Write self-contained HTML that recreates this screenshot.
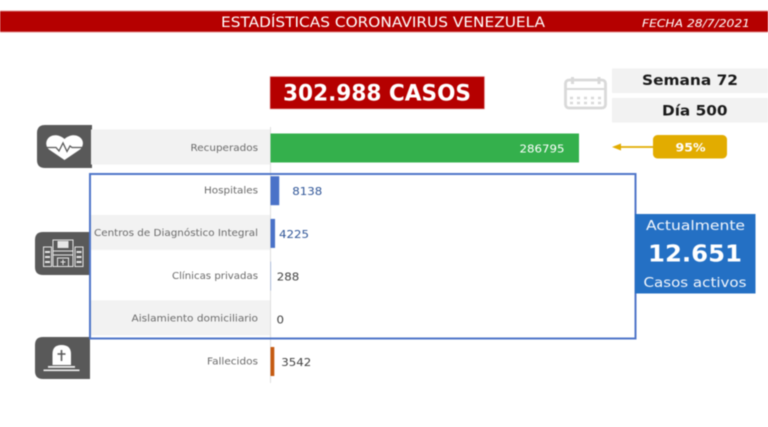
<!DOCTYPE html>
<html lang="es">
<head>
<meta charset="utf-8">
<title>Estadísticas Coronavirus Venezuela</title>
<style>
html,body{margin:0;padding:0;background:#fff;width:768px;height:427px;overflow:hidden}
svg{display:block;filter:blur(0.45px)}
text{font-family:"DejaVu Sans","Liberation Sans",sans-serif}
</style>
</head>
<body>
<svg id="chart" xmlns="http://www.w3.org/2000/svg" width="768" height="427" viewBox="0 0 768 427">
  <rect x="0" y="0" width="768" height="427" fill="#fff"/>

  <g>
    <rect x="-2" y="11" width="772" height="21" fill="#b50000" stroke="#e08a8a" stroke-width="1"/>
    <text x="221" y="27" font-size="14.5" fill="#fff" textLength="324" lengthAdjust="spacingAndGlyphs">ESTADÍSTICAS CORONAVIRUS VENEZUELA</text>
    <text x="642" y="27" font-size="10.5" font-style="italic" fill="#fff" textLength="108" lengthAdjust="spacingAndGlyphs">FECHA 28/7/2021</text>
  </g>

  <g>
    <rect x="270" y="76.5" width="214.5" height="32.5" fill="#b50000" stroke="#e9b0b0" stroke-width="0.6"/>
    <text x="283" y="100.5" font-size="22.5" font-weight="bold" fill="#fff" textLength="188" lengthAdjust="spacingAndGlyphs">302.988 CASOS</text>
  </g>

  <g fill="none" stroke="#d9d9d9">
    <rect x="565.5" y="80" width="40" height="28" rx="3.5" stroke-width="2.8"/>
    <line x1="565" y1="89" x2="606" y2="89" stroke-width="2"/>
    <line x1="572.5" y1="77" x2="572.5" y2="84" stroke-width="3"/>
    <line x1="599" y1="77" x2="599" y2="84" stroke-width="3"/>
    <line x1="570" y1="98" x2="602" y2="98" stroke-width="2.6" stroke-dasharray="3 4"/>
    <line x1="570" y1="103" x2="602" y2="103" stroke-width="2.6" stroke-dasharray="3 4"/>
  </g>

  <g>
    <rect x="612" y="68.5" width="156" height="24.5" fill="#f2f2f2"/>
    <text x="642" y="85" font-size="14.5" font-weight="bold" fill="#1a1a1a" textLength="96" lengthAdjust="spacingAndGlyphs">Semana 72</text>
  </g>
  <g>
    <rect x="612" y="98" width="156" height="24.5" fill="#f2f2f2"/>
    <text x="662" y="115.5" font-size="14.5" font-weight="bold" fill="#1a1a1a" textLength="65.5" lengthAdjust="spacingAndGlyphs">Día 500</text>
  </g>

  <g>
    <path d="M92 125V168H45Q37 168 37 160V133Q37 125 45 125Z" fill="#595959"/>
    <path d="M64.5 160L49 149.5C45 146 45.5 140 49.5 137C54 134 60 135 64.5 139C69 135 75 134 79.5 137C84 140 84 146 80 149.5Z" fill="#fff"/>
    <path d="M44 147.5H56L59 151L63 143L67 151.5L70 146L72 147.5H86" fill="none" stroke="#595959" stroke-width="1.3"/>
  </g>

  <g>
    <path d="M90 232V275H43Q35 275 35 267V240Q35 232 43 232Z" fill="#595959"/>
    <g fill="none" stroke="#e6e6e6" stroke-width="1">
      <rect x="43.5" y="247" width="8" height="19.5"/>
      <rect x="75" y="247" width="8" height="19.5"/>
      <rect x="53" y="240" width="20" height="26.5"/>
      <rect x="57.5" y="241" width="11" height="7" fill="#e6e6e6" stroke="none"/>
      <line x1="53" y1="251" x2="73" y2="251"/>
      <line x1="53" y1="255" x2="73" y2="255"/>
      <rect x="57.5" y="258" width="11" height="8.5"/>
      <line x1="45" y1="252" x2="50" y2="252" stroke-width="2"/>
      <line x1="45" y1="257" x2="50" y2="257" stroke-width="2"/>
      <line x1="45" y1="262" x2="50" y2="262" stroke-width="2"/>
      <line x1="76.5" y1="252" x2="81.5" y2="252" stroke-width="2"/>
      <line x1="76.5" y1="257" x2="81.5" y2="257" stroke-width="2"/>
      <line x1="76.5" y1="262" x2="81.5" y2="262" stroke-width="2"/>
      <path d="M63 259.5V265M60.5 262H65.5"/>
    </g>
  </g>

  <g>
    <path d="M90 337V379H43Q35 379 35 371V345Q35 337 43 337Z" fill="#595959"/>
    <path d="M52.5 365V354Q52.5 345 61.5 345Q71 345 71 354V365Z" fill="#fff"/>
    <path d="M61.5 350V361M57.5 354H65.5" fill="none" stroke="#595959" stroke-width="1.6"/>
    <rect x="48" y="366" width="27" height="1.8" fill="#eee"/>
    <rect x="43.5" y="369.5" width="36" height="1.6" fill="#eee"/>
  </g>

  <g id="bands"></g>
  <line x1="270.5" y1="127" x2="270.5" y2="383" stroke="#dedede" stroke-width="1"/>
  <g id="bars"></g>
  <g id="category-labels"></g>
  <g id="value-labels"></g>

  <rect x="90" y="174" width="545.5" height="164.5" fill="none" stroke="#4f76c8" stroke-width="2"/>

  <g>
    <rect x="635" y="214" width="120.5" height="79.5" fill="#2470c4"/>
    <text x="646" y="230" font-size="13" fill="#f2f6fc" textLength="99" lengthAdjust="spacingAndGlyphs">Actualmente</text>
    <text x="648" y="261.5" font-size="23" font-weight="bold" fill="#fff" textLength="94" lengthAdjust="spacingAndGlyphs">12.651</text>
    <text x="643.5" y="287" font-size="13" fill="#f2f6fc" textLength="103" lengthAdjust="spacingAndGlyphs">Casos activos</text>
  </g>

  <g>
    <line x1="654" y1="147" x2="618" y2="147" stroke="#e2ac00" stroke-width="1.8"/>
    <path d="M612 147L621 143.5V150.5Z" fill="#e2ac00"/>
    <rect x="653" y="135" width="74" height="23.5" rx="4.5" fill="#e2ac00"/>
    <text x="675.5" y="151.5" font-size="11.5" font-weight="bold" fill="#fff" textLength="30" lengthAdjust="spacingAndGlyphs">95%</text>
  </g>
</svg>

<script>
const categories = ["Recuperados", "Hospitales", "Centros de Diagnóstico Integral", "Clínicas privadas", "Aislamiento domiciliario", "Fallecidos"];
const caseCounts = [286795, 8138, 4225, 288, 0, 3542];
const barSeriesGroups = ["recovered", "active", "active", "active", "active", "deceased"];

function xScale(value) { return 270.5 + value * (308.5 / 286795); }
function rowCenter(index) { return 148 + index * 42.7; }

function render() {
  const ns = "http://www.w3.org/2000/svg";
  const bandLayer = document.getElementById("bands");
  const barLayer = document.getElementById("bars");
  const categoryLayer = document.getElementById("category-labels");
  const valueLayer = document.getElementById("value-labels");

  const barColors = { recovered: "#34b04c", active: "#4a72c8", deceased: "#c55a11" };
  const categoryWidths = { "Recuperados": 67.5, "Hospitales": 54, "Centros de Diagnóstico Integral": 164, "Clínicas privadas": 86, "Aislamiento domiciliario": 126.5, "Fallecidos": 51 };
  const labelGaps = { "Hospitales": 13, "Centros de Diagnóstico Integral": 4 };
  const labelColors = { recovered: "#ffffff", deceased: "#404040" };

  categories.forEach(function (name, i) {
    const center = rowCenter(i);
    const value = caseCounts[i];
    const group = barSeriesGroups[i];

    if (i % 2 === 0 && i < 5) {
      const band = document.createElementNS(ns, "rect");
      
      
      band.setAttribute("x", 91);
      band.setAttribute("y", center - 18.5);
      band.setAttribute("width", 179);
      band.setAttribute("height", 35);
      band.setAttribute("fill", "#f2f2f2");
      bandLayer.appendChild(band);
    }

    const bar = document.createElementNS(ns, "rect");
    
    
    bar.setAttribute("x", xScale(0));
    bar.setAttribute("y", center - 14.5);
    bar.setAttribute("width", xScale(value) - xScale(0));
    bar.setAttribute("height", 29);
    bar.setAttribute("fill", barColors[group]);
    barLayer.appendChild(bar);

    const label = document.createElementNS(ns, "text");
    
    
    label.setAttribute("x", 258 - categoryWidths[name]);
    label.setAttribute("y", center + 2.8);
    label.setAttribute("font-size", 9.5);
    label.setAttribute("fill", "#6a6a6a");
    label.setAttribute("textLength", categoryWidths[name]);
    label.setAttribute("lengthAdjust", "spacingAndGlyphs");
    label.textContent = name;
    categoryLayer.appendChild(label);

    const text = String(value);
    const inside = group === "recovered";
    const gap = labelGaps[name] === undefined ? 7 : labelGaps[name];
    const valueLabel = document.createElementNS(ns, "text");
    
    
    valueLabel.setAttribute("x", inside ? xScale(value) - 14.5 - text.length * 7.5 : xScale(value) + gap - (value < 1000 ? 1 : 0));
    valueLabel.setAttribute("y", center + 4.5);
    valueLabel.setAttribute("font-size", 11);
    valueLabel.setAttribute("fill", labelColors[group] || (value > 1000 ? "#2f5597" : "#404040"));
    valueLabel.setAttribute("textLength", text.length * 7.5);
    valueLabel.setAttribute("lengthAdjust", "spacingAndGlyphs");
    valueLabel.textContent = text;
    valueLayer.appendChild(valueLabel);
  });
}
render();
</script>
</body>
</html>
